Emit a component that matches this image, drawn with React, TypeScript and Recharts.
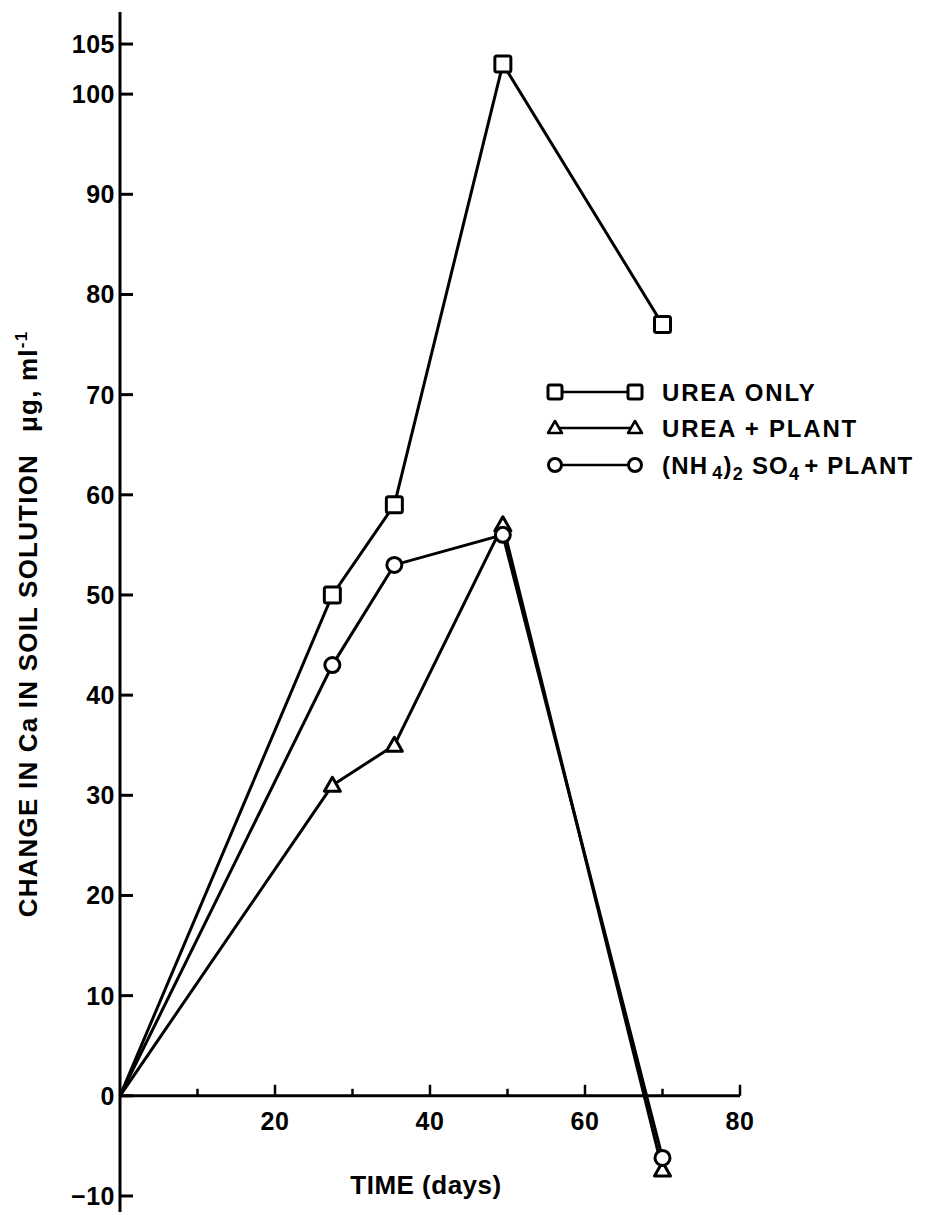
import React from 'react';
import { LineChart, Line, XAxis, YAxis, ReferenceLine, ReferenceDot, Legend } from 'recharts';

// ---- data ----
const days = [0, 27.4, 35.4, 49.4, 70];
const ureaOnly = [0, 50, 59, 103, 77];
const ureaPlant = [0, 31, 35, 57, -7.4];
const nh4Plant = [0, 43, 53, 56, -6.2];

const yTicks = [-10, 0, 10, 20, 30, 40, 50, 60, 70, 80, 90, 100, 105];
const xMajorTicks = [20, 40, 60, 80];
const xMinorTicks = [10, 30, 50, 70];
const xTitle = 'TIME (days)';
const yTitle = 'CHANGE IN Ca IN SOIL SOLUTION';

const data = days.map((d, i) => ({
  day: d,
  urea: ureaOnly[i],
  ureaPlant: ureaPlant[i],
  nh4: nh4Plant[i],
}));

const FONT = '"Liberation Sans", Arial, Helvetica, sans-serif';
const INK = '#000';

const SquareDot = (props: any) => {
  const { cx, cy, index } = props;
  if (index === 0 || cx == null || cy == null) return <g key={`sq-${index}`} />;
  return (
    <rect key={`sq-${index}`} x={cx - 8} y={cy - 8} width={16} height={16} rx={2}
      fill="#fff" stroke={INK} strokeWidth={3} />
  );
};

const TriangleDot = (props: any) => {
  const { cx, cy, index } = props;
  if (index === 0 || cx == null || cy == null) return <g key={`tr-${index}`} />;
  return (
    <polygon key={`tr-${index}`} points={`${cx},${cy - 8} ${cx - 8},${cy + 6} ${cx + 8},${cy + 6}`}
      fill="#fff" stroke={INK} strokeWidth={3} strokeLinejoin="round" />
  );
};

const CircleDot = (props: any) => {
  const { cx, cy, index } = props;
  if (index === 0 || cx == null || cy == null) return <g key={`ci-${index}`} />;
  return <circle key={`ci-${index}`} cx={cx} cy={cy} r={7.5} fill="#fff" stroke={INK} strokeWidth={3} />;
};

const YTick = (props: any) => {
  const { x, y, payload } = props;
  const v = payload.value;
  const txt = v < 0 ? `\u2212${Math.abs(v)}` : `${v}`;
  return (
    <g>
      <line x1={x} x2={x + 13} y1={y} y2={y} stroke={INK} strokeWidth={3} />
      <text x={x - 5} y={y} dy="0.36em" textAnchor="end" fontSize={25} fontWeight="bold"
        fontFamily={FONT} fill={INK} letterSpacing={0.5}>{txt}</text>
    </g>
  );
};

const YLabel = (props: any) => {
  const vb = props.viewBox || { x: 0, y: 0, width: 0, height: 0 };
  const cx = vb.x + 37;
  const cy = vb.y + vb.height / 2 + 12;
  return (
    <text x={cx} y={cy} transform={`rotate(-90, ${cx}, ${cy})`} textAnchor="middle"
      fontSize={26} fontWeight="bold" fontFamily={FONT} fill={INK} letterSpacing={1.2}>
      {yTitle}
      <tspan dx={22}>{'\u03bcg, ml'}</tspan>
      <tspan dy={-10} fontSize={17}>-1</tspan>
    </text>
  );
};

const series = [
  { key: 'urea', label: 'UREA ONLY', shape: 'square' },
  { key: 'ureaPlant', label: 'UREA + PLANT', shape: 'triangle' },
  { key: 'nh4', label: 'NH4', shape: 'circle' },
];

const LegendMarker = ({ shape, x, y }: { shape: string; x: number; y: number }) => {
  if (shape === 'square')
    return <rect x={x - 7} y={y - 7} width={14} height={14} rx={2} fill="#fff" stroke={INK} strokeWidth={3} />;
  if (shape === 'triangle')
    return <polygon points={`${x},${y - 7} ${x - 7},${y + 5} ${x + 7},${y + 5}`} fill="#fff" stroke={INK} strokeWidth={2.5} strokeLinejoin="round" />;
  return <circle cx={x} cy={y} r={6.5} fill="#fff" stroke={INK} strokeWidth={3} />;
};

const LegendContent = () => {
  const rowY = [19, 55, 92];
  return (
    <svg width={400} height={115} style={{ display: 'block', overflow: 'visible' }}>
      {series.map((s, i) => (
        <g key={s.key}>
          <line x1={17} x2={97} y1={rowY[i]} y2={rowY[i]} stroke={INK} strokeWidth={2.5} />
          <LegendMarker shape={s.shape} x={17} y={rowY[i]} />
          <LegendMarker shape={s.shape} x={97} y={rowY[i]} />
          {s.shape !== 'circle' ? (
            <text x={124} y={rowY[i]} dy="0.36em" fontSize={24} fontWeight="bold" fontFamily={FONT}
              fill={INK} letterSpacing={1.8}>{s.label}</text>
          ) : (
            <text x={124} y={rowY[i]} dy="0.36em" fontSize={24} fontWeight="bold" fontFamily={FONT}
              fill={INK} letterSpacing={1.2}>
              (NH
              <tspan dx={4} dy={5} fontSize={18}>4</tspan>
              <tspan dy={-5}>)</tspan>
              <tspan dy={6} fontSize={18}>2</tspan>
              <tspan dx={8} dy={-6}>SO</tspan>
              <tspan dy={6} fontSize={18}>4</tspan>
              <tspan dx={4} dy={-6}>+ PLANT</tspan>
            </text>
          )}
        </g>
      ))}
    </svg>
  );
};

export default function App() {
  return (
    <div style={{ position: 'absolute', left: 0, top: 0, background: '#fff', width: 931, height: 1214 }}>
      <LineChart width={931} height={1214} data={data}
        margin={{ top: 12, right: 191, bottom: 2, left: 0 }}>
        <XAxis type="number" dataKey="day" domain={[0, 80]} hide />
        <YAxis type="number" domain={[-11.6, 108.2]} ticks={yTicks} interval={0} width={120}
          allowDataOverflow axisLine={{ stroke: INK, strokeWidth: 3 }} tickLine={false}
          tickSize={0} tickMargin={0} tick={<YTick />} label={{ content: YLabel }} />
        <ReferenceLine y={0} stroke={INK} strokeWidth={3}
          label={{ value: xTitle, position: 'bottom', offset: 80, dx: -4, fontSize: 26, fontWeight: 'bold',
            fontFamily: FONT, fill: INK, letterSpacing: 0.5 } as any} />
        {xMajorTicks.map((t) => (
          <ReferenceLine key={`maj-${t}`} segment={[{ x: t, y: 0 }, { x: t, y: 1.1 }]}
            stroke={INK} strokeWidth={2.5} />
        ))}
        {xMinorTicks.map((t) => (
          <ReferenceLine key={`min-${t}`} segment={[{ x: t, y: 0 }, { x: t, y: 0.7 }]}
            stroke={INK} strokeWidth={2.5} />
        ))}
        {xMajorTicks.map((t) => (
          <ReferenceDot key={`lab-${t}`} x={t} y={0} r={0} fill="none" stroke="none"
            label={{ value: `${t}`, position: 'bottom', offset: 16, fontSize: 25, fontWeight: 'bold',
              fontFamily: FONT, fill: INK, letterSpacing: 0.5 } as any} />
        ))}
        <Line type="linear" dataKey="urea" name="UREA ONLY" stroke={INK} strokeWidth={3}
          dot={SquareDot} activeDot={false} isAnimationActive={false} />
        <Line type="linear" dataKey="ureaPlant" name="UREA + PLANT" stroke={INK} strokeWidth={3}
          dot={TriangleDot} activeDot={false} isAnimationActive={false} />
        <Line type="linear" dataKey="nh4" name="(NH4)2 SO4 + PLANT" stroke={INK} strokeWidth={3}
          dot={CircleDot} activeDot={false} isAnimationActive={false} />
        <Legend layout="horizontal" verticalAlign="middle" align="center"
          wrapperStyle={{ left: 538, top: 373, width: 400, height: 115 }}
          content={<LegendContent />} />
      </LineChart>
    </div>
  );
}
